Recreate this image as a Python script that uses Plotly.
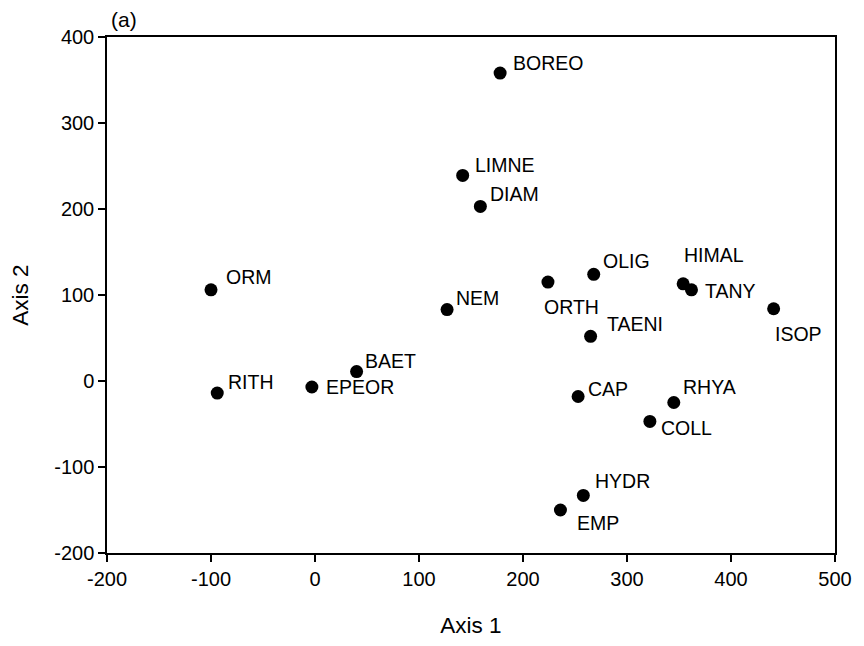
import plotly.graph_objects as go

labels = ["BOREO", "LIMNE", "DIAM", "ORM", "NEM", "ORTH", "OLIG", "HIMAL", "TANY", "ISOP",
          "TAENI", "BAET", "EPEOR", "RITH", "CAP", "RHYA", "COLL", "HYDR", "EMP"]
axis1 = [178, 142, 159, -100, 127, 224, 268, 354, 362, 441,
         265, 40, -3, -94, 253, 345, 322, 258, 236]
axis2 = [358, 239, 203, 106, 83, 115, 124, 113, 106, 84,
         52, 11, -7, -14, -18, -25, -47, -133, -150]

# label offsets in pixels (dx, dy up)
label_dx = [11, 10, 8, 13, 7, -6, 7, -1, 12, -1, 14, 6, 12, 9, 8, 7, 9, 10, 15]
label_dy = [10, 10, 12, 13, 12, -25, 13, 29, -1, -25, 12, 11, 0, 11, 7, 16, -7, 14, -13]

x_ticks = [-200, -100, 0, 100, 200, 300, 400, 500]
x_tick_text = ["-200", "-100", "0", "100", "200", "300", "400", "500"]
y_ticks = [-200, -100, 0, 100, 200, 300, 400]
y_tick_text = ["-200", "-100", "0", "100", "200", "300", "400"]

font_family = "Liberation Sans, Arial, sans-serif"

fig = go.Figure()
fig.add_trace(go.Scatter(
    x=axis1, y=axis2, mode="markers",
    marker=dict(color="black", size=13),
    hoverinfo="skip", showlegend=False,
))

for lab, xv, yv, dx, dy in zip(labels, axis1, axis2, label_dx, label_dy):
    fig.add_annotation(
        x=xv, y=yv, text=lab, showarrow=False,
        xanchor="left", yanchor="middle",
        xshift=dx, yshift=dy,
        font=dict(family=font_family, size=19.5, color="black"),
    )

fig.add_annotation(
    x=0.003, y=1.0, xref="paper", yref="paper", text="(a)", showarrow=False,
    xanchor="left", yanchor="bottom", yshift=4,
    font=dict(family=font_family, size=21, color="black"),
)

axis_common = dict(
    showgrid=False, zeroline=False, showline=True, linecolor="black", linewidth=1.5,
    mirror=True, ticks="outside", ticklen=7, tickwidth=1.5, tickcolor="black",
    tickfont=dict(family=font_family, size=20, color="black"),
)

fig.update_layout(
    width=864, height=646,
    margin=dict(l=107, r=22, t=37, b=93),
    plot_bgcolor="white", paper_bgcolor="white",
    xaxis=dict(range=[-200, 500], tickvals=x_ticks, ticktext=x_tick_text,
               title=dict(text="Axis 1", font=dict(family=font_family, size=22.5, color="black"), standoff=28),
               **axis_common),
    yaxis=dict(range=[-200, 400], tickvals=y_ticks, ticktext=y_tick_text,
               title=dict(text="Axis 2", font=dict(family=font_family, size=22.5, color="black"), standoff=19),
               **axis_common),
)

fig.write_html("out.html")
